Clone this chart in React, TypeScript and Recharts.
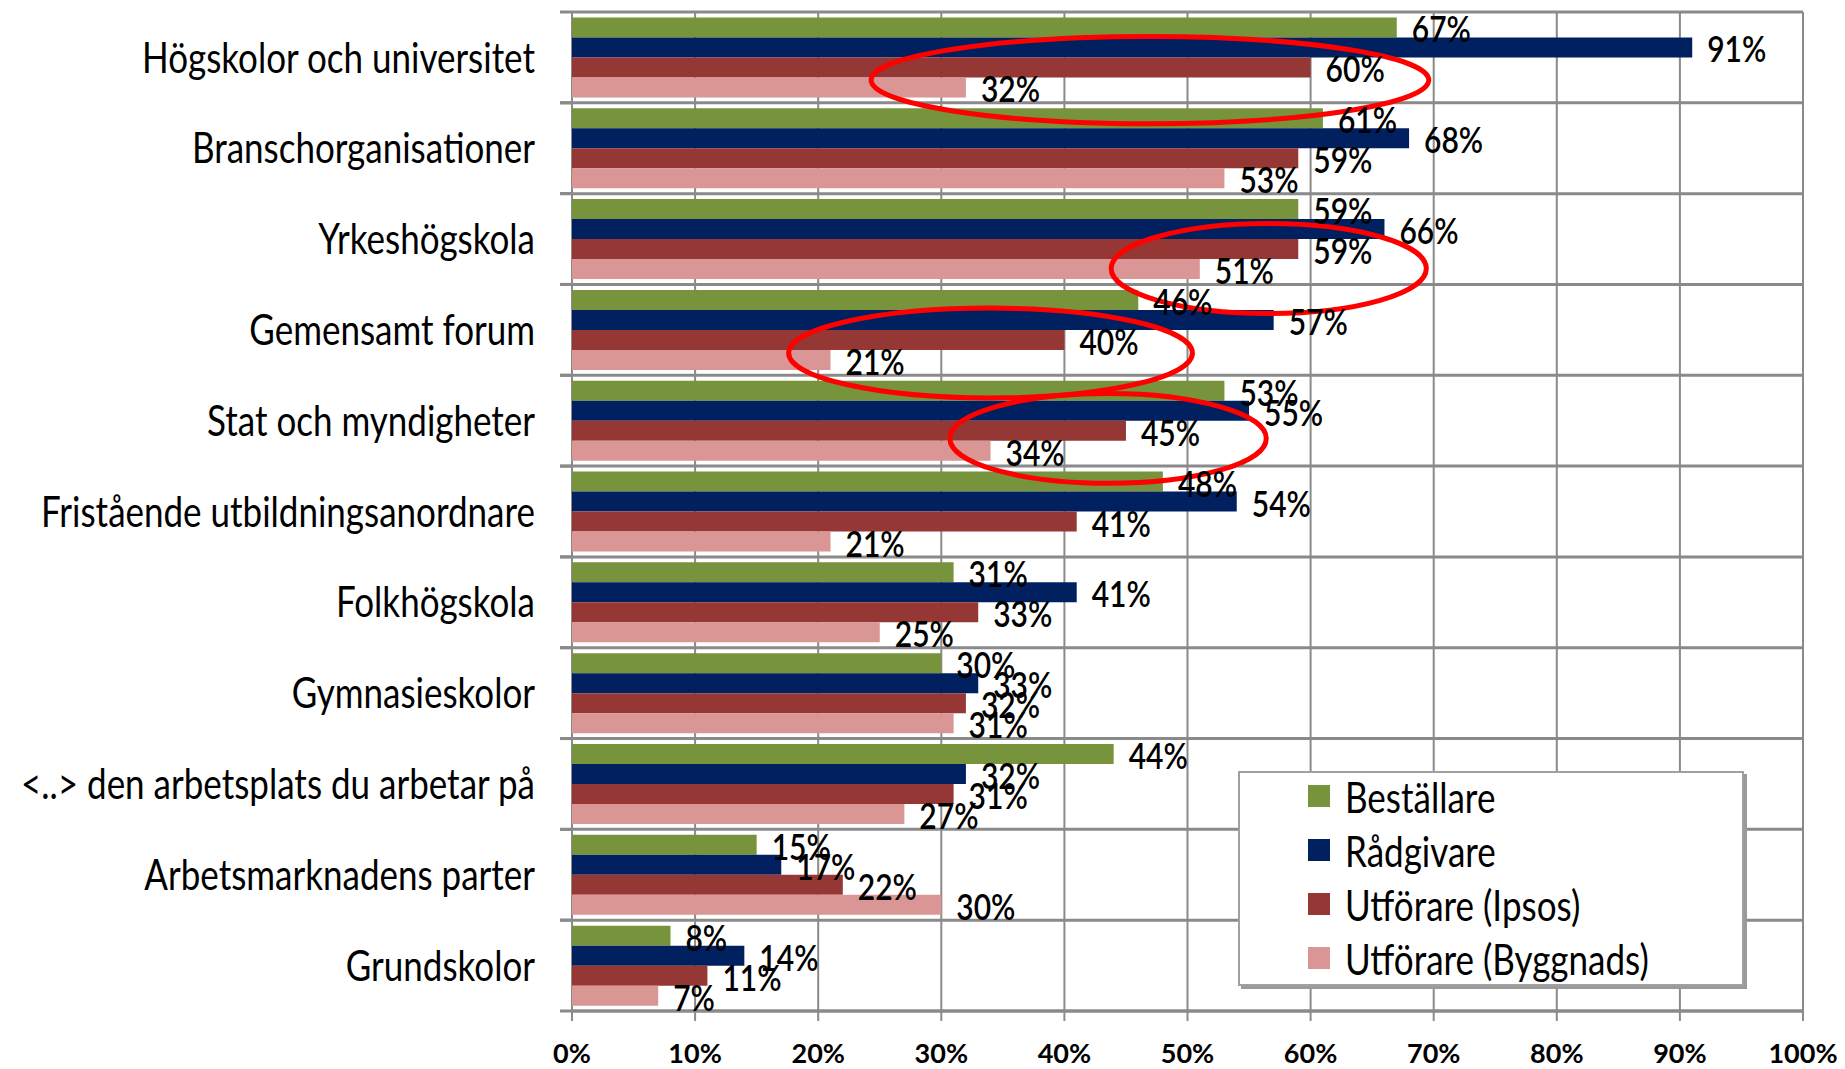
import React from "react";
import {
  BarChart,
  Bar,
  XAxis,
  YAxis,
  CartesianGrid,
  LabelList,
  Legend,
  ReferenceArea,
} from "recharts";

const CATEGORIES = [
  "Högskolor och universitet",
  "Branschorganisationer",
  "Yrkeshögskola",
  "Gemensamt forum",
  "Stat och myndigheter",
  "Fristående utbildningsanordnare",
  "Folkhögskola",
  "Gymnasieskolor",
  "<..> den arbetsplats du arbetar på",
  "Arbetsmarknadens parter",
  "Grundskolor",
];

const BESTALLARE = [67, 61, 59, 46, 53, 48, 31, 30, 44, 15, 8];
const RADGIVARE = [91, 68, 66, 57, 55, 54, 41, 33, 32, 17, 14];
const UTF_IPSOS = [60, 59, 59, 40, 45, 41, 33, 32, 31, 22, 11];
const UTF_BYGGNADS = [32, 53, 51, 21, 34, 21, 25, 31, 27, 30, 7];

const X_TICKS = [0, 10, 20, 30, 40, 50, 60, 70, 80, 90, 100];

const SERIES = [
  { key: "bestallare", name: "Beställare", color: "#77933c" },
  { key: "radgivare", name: "Rådgivare", color: "#002060" },
  { key: "ipsos", name: "Utförare (Ipsos)", color: "#953735" },
  { key: "byggnads", name: "Utförare (Byggnads)", color: "#d99694" },
];

// red hand-drawn highlight rings: x in percent, y as fractional row index (0 = top row)
const HIGHLIGHTS = [
  { x1: 24.3, x2: 69.6, y1: 0.27, y2: 1.23 },
  { x1: 43.8, x2: 69.4, y1: 2.33, y2: 3.32 },
  { x1: 17.6, x2: 50.4, y1: 3.26, y2: 4.25 },
  { x1: 30.7, x2: 56.4, y1: 4.2, y2: 5.19 },
];

const data = CATEGORIES.map((name, i) => ({
  name,
  bestallare: BESTALLARE[i],
  radgivare: RADGIVARE[i],
  ipsos: UTF_IPSOS[i],
  byggnads: UTF_BYGGNADS[i],
}));

const FONT = "Lato, 'DejaVu Sans', sans-serif";
const GRID = "#8a8a8a";
const AXIS_W = 572;
const STRETCH = 1.2;

function CategoryTick({ y, payload }: any) {
  const half = payload?.offset ?? 45.4;
  return (
    <g>
      <line x1={AXIS_W - 12} x2={AXIS_W} y1={y - half} y2={y - half} stroke={GRID} strokeWidth={3} />
      <line x1={AXIS_W - 12} x2={AXIS_W} y1={y + half} y2={y + half} stroke={GRID} strokeWidth={3} />
      <text
        transform={`translate(${AXIS_W - 37},${y}) scale(1,${STRETCH})`}
        dy="0.36em"
        textAnchor="end"
        fontFamily={FONT}
        fontSize={35}
        fill="#000"
      >
        {payload.value}
      </text>
    </g>
  );
}

function ValueLabel({ x, y, width, height, value }: any) {
  return (
    <text
      transform={`translate(${x + width + 15},${y + height / 2 + 2}) scale(1,${STRETCH})`}
      dy="0.36em"
      fontFamily={FONT}
      fontSize={30}
      fontWeight={600}
      fill="#000"
    >
      {`${value}%`}
    </text>
  );
}

// the area spans whole category bands; the ring sits at the fractional rows inside it
function Ring({ x, y, width, height, r1, r2 }: any) {
  const first = Math.floor(r1);
  const rows = Math.floor(r2) - first + 1;
  const rowH = height / rows;
  const top = y + (r1 - first) * rowH;
  const bottom = y + (r2 - first) * rowH;
  return (
    <ellipse
      cx={x + width / 2}
      cy={(top + bottom) / 2}
      rx={width / 2}
      ry={(bottom - top) / 2}
      fill="none"
      stroke="#ff0000"
      strokeWidth={5}
    />
  );
}

function LegendBox() {
  return (
    <div
      style={{
        width: 506,
        height: 215,
        boxSizing: "border-box",
        border: "2px solid #a0a0a0",
        boxShadow: "3px 3px 0 #9a9a9a",
        background: "#fff",
        padding: "0 0 0 68px",
        fontFamily: FONT,
      }}
    >
      <div style={{ marginTop: -4 }}>
        {SERIES.map((s) => (
          <div
            key={s.key}
            style={{ display: "flex", alignItems: "center", height: 54, fontSize: 35, color: "#000" }}
          >
            <span style={{ width: 22, height: 22, background: s.color, marginRight: 15 }} />
            <span style={{ display: "inline-block", transform: `scaleY(${STRETCH})` }}>{s.name}</span>
          </div>
        ))}
      </div>
    </div>
  );
}

export default function App() {
  return (
    <div style={{ position: "absolute", left: 0, top: 0, background: "#fff" }}>
      <BarChart
        width={1845}
        height={1069}
        data={data}
        layout="vertical"
        margin={{ top: 12, right: 42, bottom: 0, left: 0 }}
        barCategoryGap="6%"
        barGap={0}
      >
        <CartesianGrid
          vertical={false}
          stroke={GRID}
          strokeWidth={3}
          horizontalCoordinatesGenerator={({ offset }: any) =>
            CATEGORIES.map((_, i) => offset.top + (i * offset.height) / CATEGORIES.length).concat(
              offset.top + offset.height
            )
          }
        />
        <CartesianGrid horizontal={false} stroke={GRID} strokeWidth={2} />
        <XAxis
          type="number"
          domain={[0, 100]}
          ticks={X_TICKS}
          interval={0}
          tickFormatter={(v) => `${v}%`}
          axisLine={{ stroke: GRID, strokeWidth: 3 }}
          tickLine={{ stroke: GRID, strokeWidth: 2 }}
          tickSize={10}
          tickMargin={23}
          height={58}
          tick={{ fontFamily: FONT, fontSize: 27, fontWeight: 700, fill: "#000" }}
        />
        <YAxis
          type="category"
          dataKey="name"
          width={AXIS_W}
          axisLine={false}
          tickLine={false}
          interval={0}
          tick={<CategoryTick />}
        />
        {SERIES.map((s) => (
          <Bar key={s.key} dataKey={s.key} name={s.name} fill={s.color} isAnimationActive={false}>
            <LabelList dataKey={s.key} content={<ValueLabel />} />
          </Bar>
        ))}
        {HIGHLIGHTS.map((h, i) => (
          <ReferenceArea
            key={i}
            x1={h.x1}
            x2={h.x2}
            y1={CATEGORIES[Math.floor(h.y1)]}
            y2={CATEGORIES[Math.floor(h.y2)]}
            ifOverflow="visible"
            zIndex={1500}
            shape={<Ring r1={h.y1} r2={h.y2} />}
          />
        ))}
        <Legend
          content={<LegendBox />}
          wrapperStyle={{
            position: "absolute",
            left: 1238,
            top: 771,
            width: 506,
            height: 0,
            overflow: "visible",
            bottom: "auto",
          }}
        />
      </BarChart>
    </div>
  );
}
